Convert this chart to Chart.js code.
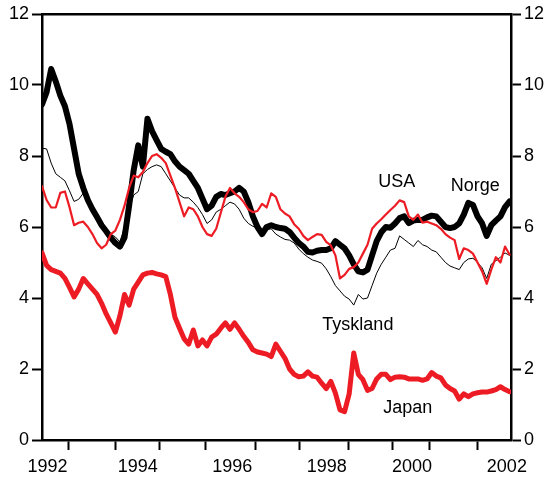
<!DOCTYPE html>
<html>
<head>
<meta charset="utf-8">
<script src="https://cdn.jsdelivr.net/npm/chart.js@4/dist/chart.umd.min.js"></script>
<style>
  html, body { margin: 0; padding: 0; background: #fff; }
  #wrap { width: 547px; height: 481px; }
</style>
</head>
<body>
<div id="wrap"><canvas id="c" width="547" height="481"></canvas></div>
<script>
// dates as decimal years, one point every 0.1 year
const dates = [
  1991.9, 1992.0, 1992.1, 1992.2, 1992.3, 1992.4, 1992.5, 1992.6, 1992.7, 1992.8,
  1992.9, 1993.0, 1993.1, 1993.2, 1993.3, 1993.4, 1993.5, 1993.6, 1993.7, 1993.8,
  1993.9, 1994.0, 1994.1, 1994.2, 1994.3, 1994.4, 1994.5, 1994.6, 1994.7, 1994.8,
  1994.9, 1995.0, 1995.1, 1995.2, 1995.3, 1995.4, 1995.5, 1995.6, 1995.7, 1995.8,
  1995.9, 1996.0, 1996.1, 1996.2, 1996.3, 1996.4, 1996.5, 1996.6, 1996.7, 1996.8,
  1996.9, 1997.0, 1997.1, 1997.2, 1997.3, 1997.4, 1997.5, 1997.6, 1997.7, 1997.8,
  1997.9, 1998.0, 1998.1, 1998.2, 1998.3, 1998.4, 1998.5, 1998.6, 1998.7, 1998.8,
  1998.9, 1999.0, 1999.1, 1999.2, 1999.3, 1999.4, 1999.5, 1999.6, 1999.7, 1999.8,
  1999.9, 2000.0, 2000.1, 2000.2, 2000.3, 2000.4, 2000.5, 2000.6, 2000.7, 2000.8,
  2000.9, 2001.0, 2001.1, 2001.2, 2001.3, 2001.4, 2001.5, 2001.6, 2001.7, 2001.8,
  2001.9, 2002.0, 2002.1
];

const norge = [
  9.45, 9.8, 10.45, 10.1, 9.7, 9.4, 8.9, 8.2, 7.5, 7.1,
  6.76, 6.5, 6.28, 6.05, 5.88, 5.7, 5.55, 5.45, 5.7, 6.6,
  7.6, 8.3, 7.7, 9.05, 8.7, 8.45, 8.2, 8.12, 8.05, 7.85,
  7.7, 7.6, 7.5, 7.3, 7.1, 6.8, 6.5, 6.6, 6.85, 6.93,
  6.9, 6.95, 7.0, 7.1, 7.0, 6.7, 6.3, 6.0, 5.8, 6.0,
  6.05, 6.0, 5.97, 5.95, 5.86, 5.7, 5.55, 5.45, 5.3, 5.28,
  5.33, 5.35, 5.35, 5.4, 5.6, 5.5, 5.4, 5.2, 4.95, 4.75,
  4.72, 4.8, 5.2, 5.6, 5.85, 6.0, 5.98, 6.1, 6.25, 6.3,
  6.11, 6.18, 6.2, 6.2, 6.27, 6.32, 6.3, 6.15, 6.0, 5.97,
  6.0, 6.1, 6.35, 6.68, 6.62, 6.3, 6.1, 5.75, 6.05, 6.18,
  6.3, 6.56, 6.72
];

const usa = [
  7.15, 6.76, 6.55, 6.55, 6.96, 7.0, 6.56, 6.05, 6.12, 6.15,
  6.0, 5.8, 5.55, 5.4, 5.5, 5.8, 5.9, 6.2, 6.6, 7.1,
  7.45, 7.4, 7.55, 7.8, 8.0, 8.05, 7.95, 7.8, 7.45, 7.1,
  6.7, 6.3, 6.55, 6.5, 6.3, 6.0, 5.8, 5.75, 5.95, 6.4,
  6.85, 7.1, 6.95, 6.85, 6.7, 6.5, 6.42, 6.45, 6.65, 6.55,
  6.95, 6.85, 6.5, 6.38, 6.3, 6.08, 5.95, 5.75, 5.63, 5.72,
  5.8, 5.78, 5.58, 5.48, 5.2, 4.55, 4.65, 4.82, 4.87, 5.0,
  5.25, 5.5, 5.95, 6.1, 6.22, 6.35, 6.48, 6.6, 6.75, 6.7,
  6.3, 6.2, 6.35, 6.12, 6.15, 6.1, 6.05, 5.95, 5.8, 5.7,
  5.63, 5.1, 5.4, 5.35, 5.25, 5.0, 4.75, 4.4, 4.8, 5.15,
  5.0, 5.45, 5.22
];

const tyskland = [
  8.22, 8.2, 7.8, 7.5, 7.4, 7.3, 7.02, 6.72, 6.78, 6.95,
  6.75, 6.5, 6.28, 6.05, 5.87, 5.8, 5.72, 5.58, 6.0, 6.5,
  6.9, 7.0, 7.5, 7.62, 7.7, 7.75, 7.7, 7.5, 7.3, 7.1,
  6.9, 6.82, 6.82, 6.7, 6.55, 6.35, 6.1, 6.2, 6.42, 6.5,
  6.6, 6.7, 6.65, 6.5, 6.25, 6.1, 6.02, 5.97, 5.88, 5.92,
  5.95, 5.8, 5.72, 5.65, 5.63, 5.55, 5.38, 5.25, 5.15, 5.07,
  5.03, 4.98, 4.82, 4.6, 4.35, 4.2, 4.05, 3.97, 3.8, 4.1,
  3.97, 4.0, 4.35, 4.7, 4.95, 5.15, 5.35, 5.4, 5.75, 5.65,
  5.55, 5.45, 5.62, 5.5, 5.45, 5.35, 5.3, 5.15, 5.0, 4.9,
  4.85, 4.8, 5.0, 5.1, 5.12, 5.0, 4.85, 4.55, 4.95, 5.05,
  5.15, 5.27, 5.2
];

const japan = [
  5.27, 4.92, 4.8, 4.75, 4.7, 4.55, 4.3, 4.03, 4.25, 4.55,
  4.4, 4.25, 4.1, 3.85, 3.55, 3.3, 3.04, 3.5, 4.1, 3.8,
  4.25, 4.45, 4.65, 4.7, 4.72, 4.68, 4.65, 4.6, 4.1, 3.46,
  3.15, 2.85, 2.7, 3.1, 2.65, 2.82, 2.65, 2.9, 2.98, 3.15,
  3.3, 3.12, 3.3, 3.12, 2.92, 2.75, 2.54, 2.48, 2.45, 2.42,
  2.35, 2.7, 2.5, 2.3, 2.0, 1.85, 1.78, 1.8, 1.92, 1.8,
  1.77, 1.6, 1.45, 1.65, 1.32, 0.85, 0.8, 1.3, 2.45, 1.85,
  1.7, 1.4, 1.45, 1.72, 1.85, 1.85, 1.7, 1.77, 1.78, 1.77,
  1.72, 1.72, 1.72, 1.68, 1.72, 1.9, 1.8, 1.75, 1.55, 1.45,
  1.38, 1.15, 1.3, 1.22, 1.3, 1.33, 1.35, 1.35, 1.38, 1.42,
  1.5, 1.42, 1.36
];

// axis ticks
const yTicks = [0, 2, 4, 6, 8, 10, 12];
const xTickMarks = [1992.48, 1993.51, 1994.47, 1995.47, 1996.56, 1997.52, 1998.59, 1999.55, 2000.36, 2001.41];
const xLabelPos = [1992.02, 1993.99, 1996.05, 1998.11, 1999.97, 2002.04];
const xLabelText = ['1992', '1994', '1996', '1998', '2000', '2002'];

// series names drawn inside the plot (baseline position in data units)
const seriesNames = ['USA', 'Norge', 'Tyskland', 'Japan'];
const nameX = [1999.64, 2001.35, 1998.79, 1999.88];
const nameY = [7.13, 7.01, 3.10, 0.76];

const RED = '#ed1c24';
const FONT = '"Liberation Sans", Arial, sans-serif';

const pts = arr => arr.map((v, i) => ({ x: dates[i], y: v }));

const xTickSet = new Set(xTickMarks);
const labelFor = {};
xLabelPos.forEach((p, i) => { labelFor[p] = xLabelText[i]; });

const namesPlugin = {
  id: 'seriesNames',
  afterDatasetsDraw(chart) {
    const { ctx, scales } = chart;
    ctx.save();
    ctx.fillStyle = '#000';
    ctx.font = '18px ' + FONT;
    ctx.textAlign = 'center';
    ctx.textBaseline = 'alphabetic';
    seriesNames.forEach((n, i) => {
      ctx.fillText(n, scales.x.getPixelForValue(nameX[i]), scales.y.getPixelForValue(nameY[i]));
    });
    ctx.restore();
  }
};

const yAxis = (pos, w) => ({
  type: 'linear',
  position: pos,
  min: 0,
  max: 12,
  afterBuildTicks: axis => { axis.ticks = yTicks.map(v => ({ value: v })); },
  afterFit: axis => { axis.width = w; },
  border: { display: true, color: '#000', width: 2.5 },
  grid: { drawOnChartArea: false, drawTicks: true, tickLength: 10, tickColor: '#000', tickWidth: 2 },
  ticks: { color: '#000', font: { family: FONT, size: 18 }, padding: 3 }
});

new Chart(document.getElementById('c'), {
  type: 'line',
  data: {
    datasets: [
      { label: 'Japan', data: pts(japan), borderColor: RED, borderWidth: 5, order: 1 },
      { label: 'USA', data: pts(usa), borderColor: RED, borderWidth: 2.2, order: 2 },
      { label: 'Norge', data: pts(norge), borderColor: '#000', borderWidth: 6, order: 3 },
      { label: 'Tyskland', data: pts(tyskland), borderColor: '#000', borderWidth: 1, order: 4 }
    ]
  },
  options: {
    responsive: false,
    animation: false,
    layout: { padding: { top: 14, left: 0, right: 0, bottom: 0 } },
    elements: { point: { radius: 0 }, line: { tension: 0, borderJoinStyle: 'round', borderCapStyle: 'round' } },
    plugins: { legend: { display: false }, tooltip: { enabled: false } },
    scales: {
      x: {
        type: 'linear',
        position: 'bottom',
        min: 1991.9,
        max: 2002.13,
        afterBuildTicks: axis => {
          axis.ticks = [...xTickMarks, ...xLabelPos].sort((a, b) => a - b).map(v => ({ value: v }));
        },
        afterFit: axis => { axis.height = 41; },
        border: { display: true, color: '#000', width: 2.5 },
        grid: {
          drawOnChartArea: false,
          drawTicks: true,
          tickLength: 10,
          tickWidth: 2,
          tickColor: c => (c.tick && xTickSet.has(c.tick.value)) ? '#000' : 'rgba(0,0,0,0)'
        },
        ticks: {
          color: '#000',
          font: { family: FONT, size: 18 },
          padding: 6,
          autoSkip: false,
          maxRotation: 0,
          callback: v => labelFor[v] || ''
        }
      },
      xTop: {
        type: 'linear',
        position: 'top',
        min: 1991.9,
        max: 2002.13,
        afterFit: axis => { axis.height = 0; },
        border: { display: true, color: '#000', width: 2.5 },
        grid: { display: false, drawTicks: false },
        ticks: { display: false }
      },
      y: yAxis('left', 42),
      y2: yAxis('right', 36)
    }
  },
  plugins: [namesPlugin]
});
</script>
</body>
</html>
